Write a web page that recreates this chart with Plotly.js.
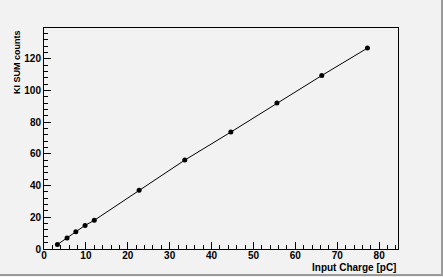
<!DOCTYPE html>
<html>
<head>
<meta charset="utf-8">
<script src="https://cdn.plot.ly/plotly-3.0.1.min.js"></script>
<style>
html,body{margin:0;padding:0;background:#f2f2f2;overflow:hidden;}
#chart{width:441px;height:274px;border-right:2px solid #9a9a9a;border-bottom:2px solid #9a9a9a;}
</style>
</head>
<body>
<div id="chart"></div>
<script>
const inputCharge = [3.2, 5.5, 7.6, 9.8, 12.0, 22.7, 33.6, 44.6, 55.6, 66.3, 77.2];
const kiSumCounts = [2.8, 7.0, 10.9, 14.9, 18.1, 37.1, 56.1, 73.8, 92.1, 109.5, 126.8];
const xTitle = "Input Charge [pC]";
const yTitle = "KI SUM counts";

const font = {family: "Liberation Sans, Arial, sans-serif", size: 10, color: "#000", weight: "bold"};
const yTitleFont = {family: "Liberation Sans, Arial, sans-serif", size: 9, color: "#000", weight: "bold"};

const trace = {
  x: inputCharge, y: kiSumCounts,
  type: "scatter", mode: "lines+markers",
  line: {color: "#000", width: 1},
  marker: {color: "#000", size: 5},
  hoverinfo: "skip"
};

const layout = {
  width: 441, height: 274,
  margin: {l: 44, r: 43, t: 28, b: 25},
  paper_bgcolor: "#f2f2f2", plot_bgcolor: "#f2f2f2",
  showlegend: false,
  font: font,
  xaxis: {
    range: [0, 84.5], dtick: 10, tick0: 0,
    ticks: "inside", ticklen: 7, tickcolor: "#000", tickwidth: 1,
    minor: {dtick: 2, ticks: "inside", ticklen: 4, tickcolor: "#000"},
    showgrid: false, zeroline: false,
    showline: true, linecolor: "#000", linewidth: 1, mirror: true,
    tickfont: font, ticklabelstandoff: -3
  },
  yaxis: {
    range: [0, 139.5], dtick: 20, tick0: 0,
    ticks: "inside", ticklen: 7, tickcolor: "#000", tickwidth: 1,
    minor: {dtick: 4, ticks: "inside", ticklen: 4, tickcolor: "#000"},
    showgrid: false, zeroline: false,
    showline: true, linecolor: "#000", linewidth: 1, mirror: true,
    tickfont: font, ticklabelstandoff: 0
  },
  annotations: [
    {text: xTitle, xref: "paper", yref: "paper", x: 1, y: 0, xanchor: "right", yanchor: "top",
     yshift: -11, showarrow: false, font: font},
    {text: yTitle, xref: "paper", yref: "paper", x: 0, y: 1, xanchor: "right", yanchor: "top",
     xshift: -20, textangle: -90, showarrow: false, font: yTitleFont}
  ]
};

Plotly.newPlot("chart", [trace], layout, {staticPlot: true, displayModeBar: false});
</script>
</body>
</html>
